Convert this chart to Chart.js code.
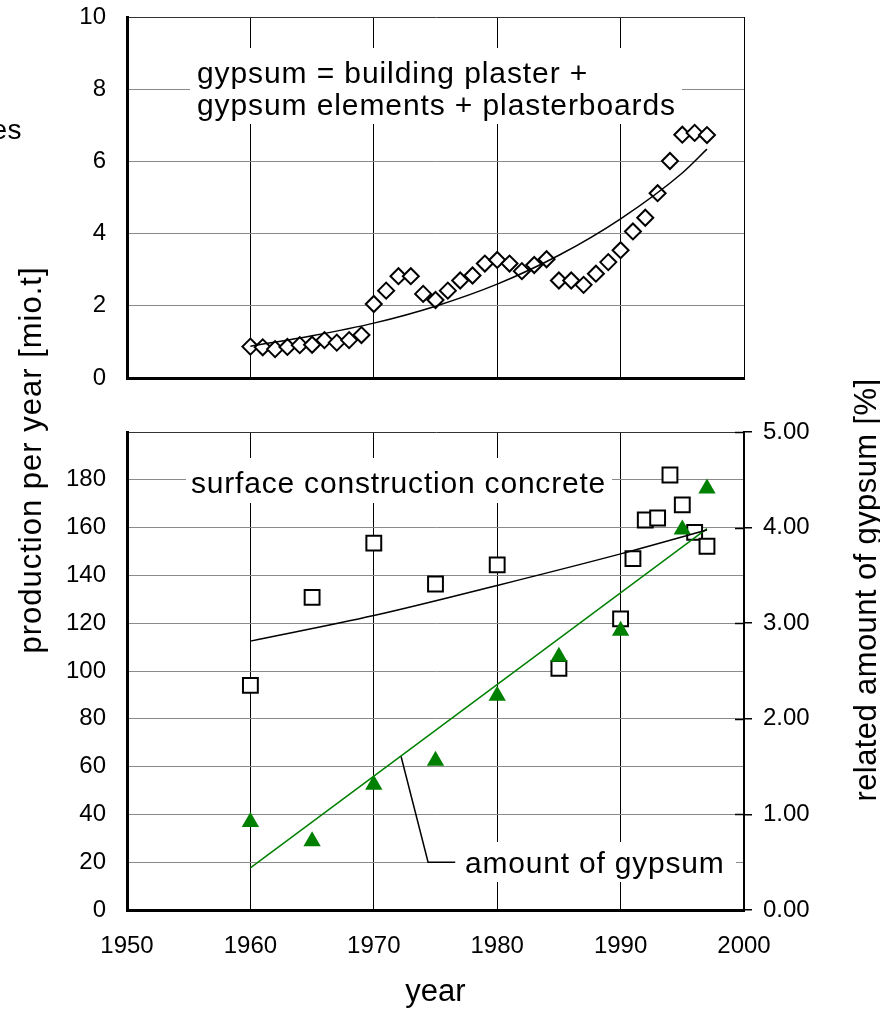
<!DOCTYPE html>
<html><head><meta charset="utf-8">
<script src="https://cdn.jsdelivr.net/npm/chart.js@4.4.1/dist/chart.umd.min.js"></script>
<style>
html,body{margin:0;padding:0;background:#fff;}
#wrap{position:relative;width:880px;height:1013px;overflow:hidden;background:#fff;}
canvas{position:absolute;left:0;top:0;}
</style></head>
<body><div id="wrap">
<canvas id="bottomChart" width="880" height="1013"></canvas>
<canvas id="topChart" width="880" height="400"></canvas>
</div>
<script>
// ---------- data ----------
const gypsumYears = [1960,1961,1962,1963,1964,1965,1966,1967,1968,1969,1970,1971,1972,1973,1974,1975,1976,1977,1978,1979,1980,1981,1982,1983,1984,1985,1986,1987,1988,1989,1990,1991,1992,1993,1994,1995,1996,1997];
const gypsumProduction = [0.87,0.85,0.80,0.86,0.91,0.92,1.05,0.98,1.05,1.19,2.05,2.42,2.82,2.82,2.33,2.16,2.42,2.70,2.84,3.17,3.27,3.17,2.96,3.13,3.29,2.70,2.70,2.58,2.89,3.21,3.54,4.06,4.44,5.12,6.01,6.74,6.79,6.73];
const gypsumTrendYears = [1960,1965,1970,1975,1980,1985,1990,1995,1997];
const gypsumTrendValues = [0.88,1.17,1.52,1.99,2.60,3.40,4.41,5.68,6.34];

const concreteYears = [1960,1965,1970,1975,1980,1985,1990,1991,1992,1993,1994,1995,1996,1997];
const concreteProduction = [94,130.8,153.5,136.4,144.4,101.1,121.8,147,163.2,164,182,169.5,158,152.2];
const concreteTrendYears = [1960,1970,1980,1990,1997];
const concreteTrendValues = [112.5,123.2,135.8,149,159];

const shareYears = [1960,1965,1970,1975,1980,1985,1990,1995,1997];
const shareValues = [0.92,0.72,1.31,1.56,2.24,2.65,2.92,3.98,4.41];
const shareTrendYears = [1960,1997];
const shareTrendValues = [0.44,3.99];

const xTicks = [1950,1960,1970,1980,1990,2000];
const topYTicks = [0,2,4,6,8,10];
const leftYTicks = [0,20,40,60,80,100,120,140,160,180,200];
const rightYTicks = [0,1,2,3,4,5];

// ---------- helpers ----------
const FONT = '"Liberation Sans", Arial, Helvetica, sans-serif';
Chart.defaults.font.family = FONT;
Chart.defaults.color = '#000';
const pts = (xs, ys) => xs.map((x, i) => ({x: x, y: ys[i]}));
const setTicks = arr => s => { s.ticks = arr.map(v => ({value: v})); };
const hGrid = maxV => c => (c.tick && c.tick.value === maxV) ? '#333' : '#8a8a8a';

function label(ctx, text, x, y, size, spacing, align, baseline, rot) {
  ctx.save();
  ctx.translate(x, y);
  if (rot) ctx.rotate(rot);
  ctx.font = size + 'px ' + FONT;
  ctx.fillStyle = '#000';
  if ('letterSpacing' in ctx) ctx.letterSpacing = spacing + 'px';
  ctx.textAlign = align;
  ctx.textBaseline = baseline;
  ctx.fillText(text, 0, 0);
  ctx.restore();
}

// ---------- top chart ----------
const topAnno = {
  id: 'topAnno',
  beforeDatasetsDraw(chart) {
    const ctx = chart.ctx;
    ctx.save();
    ctx.fillStyle = '#fff';
    ctx.fillRect(190, 48, 492, 76);
    ctx.restore();
    label(ctx, 'gypsum = building plaster +', 197, 83, 30, 0.9, 'left', 'alphabetic');
    label(ctx, 'gypsum elements + plasterboards', 197, 115, 30, 0.9, 'left', 'alphabetic');
  }
};

new Chart(document.getElementById('topChart'), {
  type: 'scatter',
  data: {
    datasets: [
      { label: 'trend', data: pts(gypsumTrendYears, gypsumTrendValues), showLine: true,
        borderColor: '#000', borderWidth: 1.5, pointRadius: 0, cubicInterpolationMode: 'monotone', order: 0 },
      { label: 'gypsum', data: pts(gypsumYears, gypsumProduction), pointStyle: 'rectRot', pointRadius: 8,
        backgroundColor: '#fff', borderColor: '#000', borderWidth: 2, order: 1 }
    ]
  },
  options: {
    responsive: false, animation: false,
    layout: { padding: { top: 17, left: 0, right: 136, bottom: 22 } },
    plugins: { legend: { display: false }, tooltip: { enabled: false } },
    scales: {
      x: { type: 'linear', min: 1950, max: 2000, afterBuildTicks: setTicks(xTicks),
           ticks: { display: false }, grid: { color: '#000', lineWidth: 1, drawTicks: false },
           border: { color: '#000', width: 3 },
           afterFit: s => { s.height = 0; s.paddingLeft = 0; s.paddingRight = 0; } },
      y: { type: 'linear', min: 0, max: 10, afterBuildTicks: setTicks(topYTicks),
           ticks: { padding: 21, font: { size: 24 }, color: '#000', callback: v => String(v) },
           grid: { color: hGrid(10), lineWidth: 1, drawTicks: false },
           border: { color: '#000', width: 3 },
           afterFit: s => { s.width = 127; s.paddingTop = 0; s.paddingBottom = 0; } }
    }
  },
  plugins: [topAnno]
});

// ---------- bottom chart ----------
const bottomAnno = {
  id: 'bottomAnno',
  beforeDatasetsDraw(chart) {
    const ctx = chart.ctx;
    const sx = chart.scales.x, sy = chart.scales.y, sy2 = chart.scales.y2;
    ctx.save();
    ctx.fillStyle = '#fff';
    ctx.fillRect(186, 458, 426, 45);
    ctx.fillRect(455, 842, 281, 40);
    // leader line from the gypsum trend line to its label
    const yr = 1972.2;
    const t = (yr - shareTrendYears[0]) / (shareTrendYears[1] - shareTrendYears[0]);
    const v = shareTrendValues[0] + t * (shareTrendValues[1] - shareTrendValues[0]);
    ctx.strokeStyle = '#000';
    ctx.lineWidth = 1.5;
    ctx.beginPath();
    ctx.moveTo(sx.getPixelForValue(yr), sy2.getPixelForValue(v));
    ctx.lineTo(sx.getPixelForValue(1974.4), sy.getPixelForValue(20));
    ctx.lineTo(sx.getPixelForValue(1976.6), sy.getPixelForValue(20));
    ctx.stroke();
    ctx.restore();
    label(ctx, 'surface construction concrete', 191, 493, 30, 0.8, 'left', 'alphabetic');
    label(ctx, 'amount of gypsum', 465, 873, 30, 0.8, 'left', 'alphabetic');
  },
  afterDraw(chart) {
    const ctx = chart.ctx;
    const sy2 = chart.scales.y2;
    // inward tick marks of the right axis
    ctx.save();
    ctx.strokeStyle = '#000';
    ctx.lineWidth = 1.5;
    rightYTicks.forEach(v => {
      const y = Math.round(sy2.getPixelForValue(v)) + 0.5;
      ctx.beginPath(); ctx.moveTo(735, y); ctx.lineTo(745, y); ctx.stroke();
    });
    ctx.restore();
    label(ctx, 'es', 22, 139, 28, 0.5, 'right', 'alphabetic');
    label(ctx, 'production per year [mio.t]', 32, 460, 31, 1.0, 'center', 'middle', -Math.PI / 2);
    label(ctx, 'related amount of gypsum [%]', 867, 590, 31, 0.4, 'center', 'middle', -Math.PI / 2);
  }
};

new Chart(document.getElementById('bottomChart'), {
  type: 'scatter',
  data: {
    datasets: [
      { label: 'concrete trend', data: pts(concreteTrendYears, concreteTrendValues), showLine: true, yAxisID: 'y',
        borderColor: '#000', borderWidth: 1.5, pointRadius: 0, cubicInterpolationMode: 'monotone', order: 0 },
      { label: 'gypsum share trend', data: pts(shareTrendYears, shareTrendValues), showLine: true, yAxisID: 'y2',
        borderColor: '#008000', borderWidth: 1.5, pointRadius: 0, order: 0 },
      { label: 'gypsum share', data: pts(shareYears, shareValues), yAxisID: 'y2', pointStyle: 'triangle', pointRadius: 10,
        backgroundColor: '#008000', borderColor: '#008000', borderWidth: 0, order: 1 },
      { label: 'concrete', data: pts(concreteYears, concreteProduction), yAxisID: 'y', pointStyle: 'rect', pointRadius: 10.5,
        backgroundColor: '#fff', borderColor: '#000', borderWidth: 2, order: 2 }
    ]
  },
  options: {
    responsive: false, animation: false,
    layout: { padding: { top: 432, left: 0, right: 0, bottom: 0 } },
    plugins: { legend: { display: false }, tooltip: { enabled: false } },
    scales: {
      x: { type: 'linear', min: 1950, max: 2000, afterBuildTicks: setTicks(xTicks),
           ticks: { padding: 22, font: { size: 24 }, color: '#000', maxRotation: 0, autoSkip: false, callback: v => String(v) },
           grid: { color: '#000', lineWidth: 1, drawTicks: false },
           border: { color: '#000', width: 3 },
           title: { display: true, text: 'year', font: { size: 31 }, color: '#000', padding: { top: 0, bottom: 2 } },
           afterFit: s => { s.height = 103; } },
      y: { type: 'linear', position: 'left', min: 0, max: 200, afterBuildTicks: setTicks(leftYTicks),
           ticks: { padding: 21, font: { size: 24 }, color: '#000', callback: v => (v === 200 ? '' : String(v)) },
           grid: { color: hGrid(200), lineWidth: 1, drawTicks: false },
           border: { color: '#000', width: 3 }, afterFit: s => { s.width = 127; } },
      y2: { type: 'linear', position: 'right', min: 0, max: 5, afterBuildTicks: setTicks(rightYTicks),
            ticks: { padding: 11, font: { size: 24 }, color: '#000', callback: v => Number(v).toFixed(2) },
            grid: { drawOnChartArea: false, drawTicks: true, tickLength: 8, tickColor: '#000', lineWidth: 1.5 },
            border: { color: '#000', width: 2 }, afterFit: s => { s.width = 136; } }
    }
  },
  plugins: [bottomAnno]
});
</script>
</body></html>
